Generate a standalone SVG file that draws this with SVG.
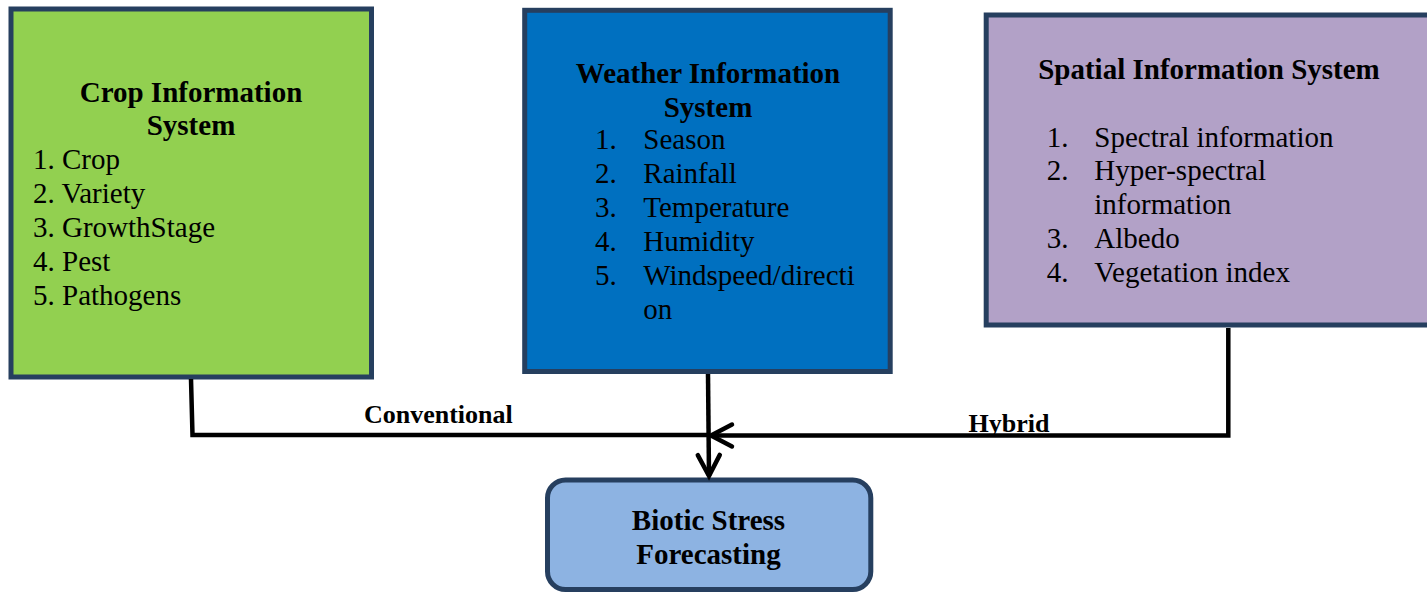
<svg xmlns="http://www.w3.org/2000/svg" width="1427" height="592" viewBox="0 0 1427 592">
<style>
.box{stroke:#263F5F;stroke-width:5}
.t{font-family:"Liberation Serif","Times New Roman",serif;fill:#000}
.b{font-weight:bold;font-size:29px;text-anchor:middle}
.r{font-size:29px}
.lbl{font-family:"Liberation Serif","Times New Roman",serif;font-weight:bold;font-size:26px;text-anchor:middle;fill:#000}
.ln{fill:none;stroke:#000;stroke-width:4.5;stroke-linejoin:miter}
</style>
<defs>
<marker id="chev" markerUnits="userSpaceOnUse" markerWidth="30" markerHeight="30" refX="24" refY="13" orient="auto" overflow="visible">
<path d="M3,2 L24,13 L3,24" fill="none" stroke="#000" stroke-width="4.5" stroke-linecap="round" stroke-linejoin="miter"/>
</marker>
</defs>
<rect width="1427" height="592" fill="#fff"/>
<g id="crop">
<rect class="box" x="11" y="9" width="360.5" height="368" fill="#92D050"/>
<text class="t b" x="191" y="102">Crop Information</text>
<text class="t b" x="191" y="135">System</text>
<text class="t r" x="33" y="168.5">1. Crop</text>
<text class="t r" x="33" y="202.5">2. Variety</text>
<text class="t r" x="33" y="236.5">3. GrowthStage</text>
<text class="t r" x="33" y="270.5">4. Pest</text>
<text class="t r" x="33" y="304.5">5. Pathogens</text>
</g>
<g id="weather">
<rect class="box" x="524.7" y="10.3" width="365.5" height="361.2" fill="#0070C0"/>
<text class="t b" x="708" y="82.7">Weather Information</text>
<text class="t b" x="708" y="116.7">System</text>
<text class="t r" x="595" y="149.3">1.</text>
<text class="t r" x="643.3" y="149.3">Season</text>
<text class="t r" x="595" y="183.3">2.</text>
<text class="t r" x="643.3" y="183.3">Rainfall</text>
<text class="t r" x="595" y="217.3">3.</text>
<text class="t r" x="643.3" y="217.3">Temperature</text>
<text class="t r" x="595" y="251.3">4.</text>
<text class="t r" x="643.3" y="251.3">Humidity</text>
<text class="t r" x="595" y="285.3">5.</text>
<text class="t r" x="643.3" y="285.3">Windspeed/directi</text>
<text class="t r" x="643.3" y="319.3">on</text>
</g>
<g id="spatial">
<rect class="box" x="986.2" y="15" width="446" height="310" fill="#B2A1C7"/>
<text class="t b" x="1209" y="79">Spatial Information System</text>
<text class="t r" x="1046.7" y="146.7">1.</text>
<text class="t r" x="1094.3" y="146.7">Spectral information</text>
<text class="t r" x="1046.7" y="180.3">2.</text>
<text class="t r" x="1094.3" y="180.3">Hyper-spectral</text>
<text class="t r" x="1094.3" y="213.8">information</text>
<text class="t r" x="1046.7" y="247.5">3.</text>
<text class="t r" x="1094.3" y="247.5">Albedo</text>
<text class="t r" x="1046.7" y="281.5">4.</text>
<text class="t r" x="1094.3" y="281.5">Vegetation index</text>
</g>
<g id="biotic">
<rect class="box" x="547.5" y="480" width="323.3" height="109.5" rx="18" ry="18" fill="#8DB3E2"/>
<text class="t b" x="708.5" y="530">Biotic Stress</text>
<text class="t b" x="708.5" y="564">Forecasting</text>
</g>
<g id="connectors">
<path class="ln" d="M191,379 L192.5,435 L708.5,435"/>
<path class="ln" d="M708,374 L709,476" marker-end="url(#chev)"/>
<path class="ln" d="M1228.3,328 L1228.3,435.5 L711,435.5" marker-end="url(#chev)"/>
<text class="lbl" x="438.3" y="423">Conventional</text>
<text class="lbl" x="1009" y="432">Hybrid</text>
</g>
</svg>
